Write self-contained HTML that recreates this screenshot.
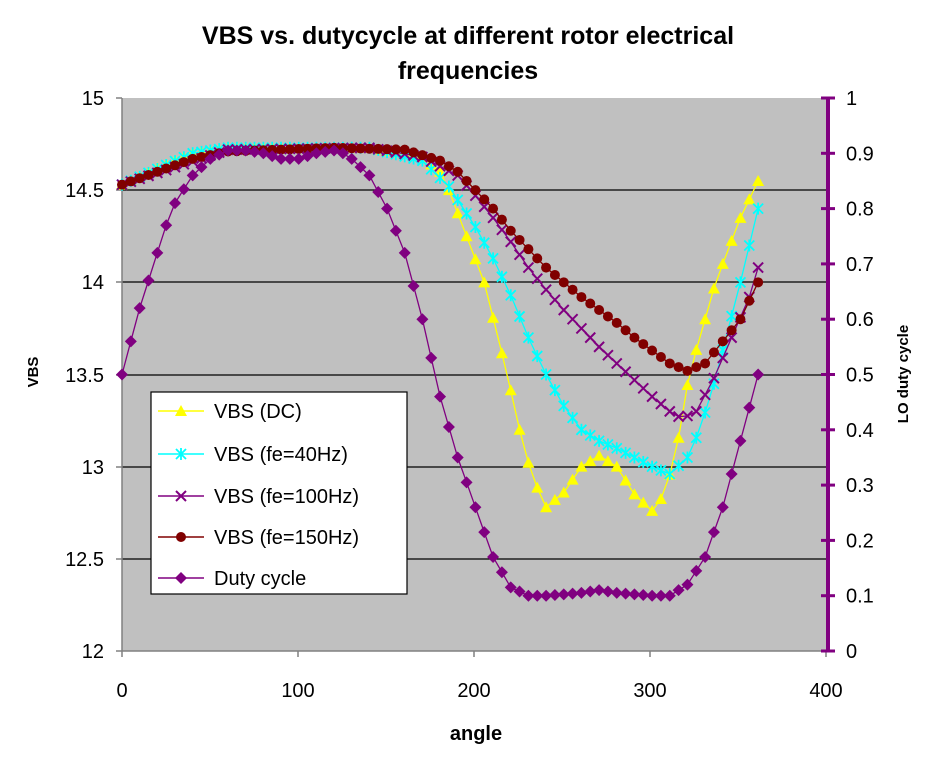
<!DOCTYPE html>
<html><head><meta charset="utf-8"><style>
body{margin:0;background:#fff;}
svg text{font-family:"Liberation Sans",Arial,sans-serif;}
</style></head><body>
<svg id="s" width="936" height="761" xmlns="http://www.w3.org/2000/svg">
<rect x="0" y="0" width="936" height="761" fill="#fff"/>
<text x="468" y="44" text-anchor="middle" font-size="25" font-weight="bold">VBS vs. dutycycle at different rotor electrical</text>
<text x="468" y="79" text-anchor="middle" font-size="25" font-weight="bold">frequencies</text>
<rect x="122" y="98" width="706" height="553" fill="#c0c0c0"/>
<g stroke="#000" stroke-width="1.3">
<line x1="122" y1="190" x2="828" y2="190"/><line x1="122" y1="282" x2="828" y2="282"/>
<line x1="122" y1="375" x2="828" y2="375"/><line x1="122" y1="467" x2="828" y2="467"/>
<line x1="122" y1="559" x2="828" y2="559"/>
</g>
<g stroke="#808080" stroke-width="1.5">
<line x1="122" y1="98" x2="122" y2="651"/><line x1="122" y1="651" x2="828" y2="651"/>
<line x1="116" y1="98" x2="122" y2="98"/><line x1="116" y1="190" x2="122" y2="190"/><line x1="116" y1="282" x2="122" y2="282"/><line x1="116" y1="375" x2="122" y2="375"/><line x1="116" y1="467" x2="122" y2="467"/><line x1="116" y1="559" x2="122" y2="559"/><line x1="116" y1="651" x2="122" y2="651"/>
<line x1="122" y1="651" x2="122" y2="657"/><line x1="298" y1="651" x2="298" y2="657"/><line x1="474" y1="651" x2="474" y2="657"/><line x1="650" y1="651" x2="650" y2="657"/><line x1="826" y1="651" x2="826" y2="657"/>
</g>
<g font-size="20" text-anchor="end" fill="#000">
<text x="104" y="105">15</text><text x="104" y="197">14.5</text><text x="104" y="289">14</text><text x="104" y="382">13.5</text><text x="104" y="474">13</text><text x="104" y="566">12.5</text><text x="104" y="658">12</text>
</g>
<g font-size="20" text-anchor="middle">
<text x="122" y="697">0</text><text x="298" y="697">100</text><text x="474" y="697">200</text><text x="650" y="697">300</text><text x="826" y="697">400</text>
</g>
<text x="476" y="740" text-anchor="middle" font-size="20" font-weight="bold">angle</text>
<text transform="translate(38,372) rotate(-90)" text-anchor="middle" font-size="15" font-weight="bold">VBS</text>
<text transform="translate(908,374) rotate(-90)" text-anchor="middle" font-size="15" font-weight="bold">LO duty cycle</text>
<g id="ra"></g>
<g id="series"></g>
<rect x="151" y="392" width="256" height="202" fill="#fff" stroke="#000" stroke-width="1.2"/>
<g id="leg"></g>
<g font-size="20">
<text x="214" y="418">VBS (DC)</text>
<text x="214" y="461">VBS (fe=40Hz)</text>
<text x="214" y="503">VBS (fe=100Hz)</text>
<text x="214" y="544">VBS (fe=150Hz)</text>
<text x="214" y="585">Duty cycle</text>
</g>
</svg>
<script>
var NS="http://www.w3.org/2000/svg",S=document.getElementById('series'),L=document.getElementById('leg'),R=document.getElementById('ra');
function el(p,t,a){var e=document.createElementNS(NS,t);for(var k in a)e.setAttribute(k,a[k]);p.appendChild(e);return e;}
function X(a){return 122+a*1.767;}
function YL(v){return 651-(v-12)*184.33;}
function YR(v){return 651-v*553;}
function interp(k,a){for(var i=0;i<k.length-1;i++){if(a>=k[i][0]&&a<=k[i+1][0]){var t=(a-k[i][0])/(k[i+1][0]-k[i][0]);return k[i][1]+t*(k[i+1][1]-k[i][1]);}}return k[k.length-1][1];}
function mk(g,type,x,y,c){
 if(type=='tri')el(g,'polygon',{points:(x)+','+(y-6)+' '+(x-6)+','+(y+5)+' '+(x+6)+','+(y+5),fill:c});
 else if(type=='circ')el(g,'circle',{cx:x,cy:y,r:5,fill:c});
 else if(type=='dia')el(g,'polygon',{points:x+','+(y-6)+' '+(x+6)+','+y+' '+x+','+(y+6)+' '+(x-6)+','+y,fill:c});
 else if(type=='x'){el(g,'path',{d:'M'+(x-5)+' '+(y-5)+'L'+(x+5)+' '+(y+5)+'M'+(x-5)+' '+(y+5)+'L'+(x+5)+' '+(y-5),stroke:c,'stroke-width':2});}
 else if(type=='star'){el(g,'path',{d:'M'+(x-5)+' '+(y-5)+'L'+(x+5)+' '+(y+5)+'M'+(x-5)+' '+(y+5)+'L'+(x+5)+' '+(y-5)+'M'+x+' '+(y-6)+'L'+x+' '+(y+6),stroke:c,'stroke-width':1.8});}
}
var series=[
{c:'#ffff00',m:'tri',r:0,k:[[0,14.53],[20,14.62],[40,14.7],[60,14.73],[140,14.73],[170,14.68],[180,14.6],[185,14.5],[195,14.25],[205,14.0],[218,13.5],[225,13.2],[232,12.95],[240,12.78],[250,12.86],[260,13.0],[270,13.06],[280,13.0],[290,12.85],[300,12.76],[307,12.85],[314,13.1],[321,13.5],[336,14.0],[350,14.35],[360,14.55]]},
{c:'#00ffff',m:'star',r:0,k:[[0,14.53],[40,14.7],[60,14.73],[140,14.73],[170,14.66],[185,14.52],[200,14.3],[210,14.13],[220,13.93],[230,13.7],[240,13.5],[250,13.33],[260,13.2],[270,13.14],[280,13.1],[290,13.05],[300,13.0],[310,12.96],[320,13.05],[327,13.2],[335,13.45],[341,13.67],[350,14.0],[360,14.4]]},
{c:'#800080',m:'x',r:0,k:[[0,14.53],[60,14.72],[140,14.73],[170,14.68],[190,14.58],[200,14.47],[210,14.35],[220,14.22],[230,14.08],[240,13.96],[250,13.85],[260,13.75],[270,13.65],[280,13.56],[290,13.47],[300,13.38],[310,13.3],[317,13.26],[325,13.3],[335,13.48],[345,13.7],[355,13.92],[360,14.08]]},
{c:'#800000',m:'circ',r:0,k:[[0,14.53],[20,14.6],[40,14.67],[60,14.71],[120,14.73],[160,14.72],[180,14.66],[190,14.6],[200,14.5],[210,14.4],[220,14.28],[230,14.18],[240,14.08],[250,14.0],[260,13.92],[270,13.85],[280,13.78],[290,13.7],[300,13.63],[310,13.56],[320,13.52],[330,13.56],[340,13.68],[350,13.8],[360,14.0]]},
{c:'#800080',m:'dia',r:1,k:[[0,0.5],[5,0.56],[10,0.62],[15,0.67],[20,0.72],[25,0.77],[30,0.81],[40,0.86],[50,0.89],[60,0.905],[70,0.905],[80,0.9],[90,0.89],[100,0.89],[110,0.9],[120,0.905],[125,0.9],[130,0.89],[140,0.86],[150,0.8],[160,0.72],[170,0.6],[180,0.46],[190,0.35],[200,0.26],[210,0.17],[220,0.115],[230,0.1],[240,0.1],[260,0.105],[270,0.11],[280,0.105],[300,0.1],[310,0.1],[320,0.12],[330,0.17],[340,0.26],[350,0.38],[360,0.5]]}
];
series.forEach(function(s,i){
 var g=el(S,'g',{}),pts=[];
 for(var a=0;a<=360;a+=5){var v=interp(s.k,a);pts.push([X(a),s.r?YR(v):YL(v)]);}
 el(g,'polyline',{points:pts.map(function(p){return p[0].toFixed(1)+','+p[1].toFixed(1)}).join(' '),fill:'none',stroke:s.c,'stroke-width':1.3});
 pts.forEach(function(p){mk(g,s.m,p[0],p[1],s.c);});
 var ly=[411,454,496,537,578][i];
 el(L,'line',{x1:158,y1:ly,x2:204,y2:ly,stroke:s.c,'stroke-width':1.5});
 mk(L,s.m,181,ly,s.c);
});
el(R,'line',{x1:828,y1:98,x2:828,y2:651,stroke:'#800080','stroke-width':4});
for(var i=0;i<=10;i++){var y=YR(i/10);el(R,'line',{x1:821,y1:y,x2:835,y2:y,stroke:'#800080','stroke-width':3});
 var t=el(R,'text',{x:846,y:y+7,'font-size':20});t.textContent=(i==0?'0':i==10?'1':(i/10).toFixed(1));}
</script>
</body></html>
